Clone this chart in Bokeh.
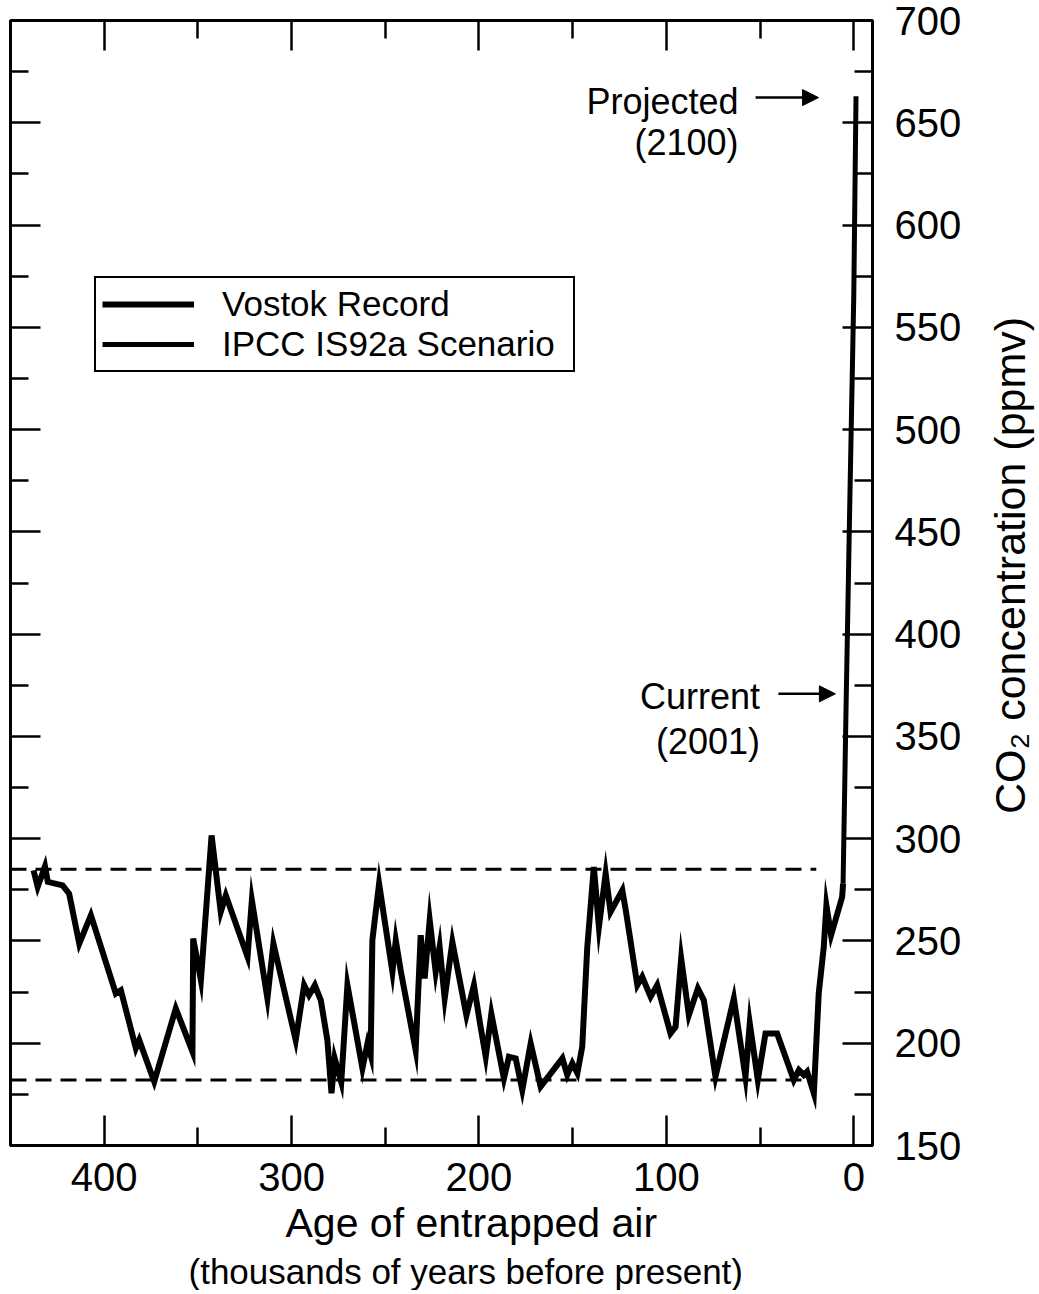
import math
from bokeh.plotting import figure
from bokeh.layouts import row
from bokeh.models import (Range1d, LinearAxis, FixedTicker, Legend, LegendItem,
                          Arrow, NormalHead, Label, Title)
from bokeh.embed import file_html
from bokeh.resources import INLINE

# ---------------- data ----------------
vostok_age = [437.7, 435.5, 431.6, 430.1, 422.2, 418.7, 413.3, 407.1, 393.8, 391.1,
              383.1, 381.3, 373.3, 361.8, 352.9, 352.5, 348.4, 342.7, 337.8, 335.1,
              323.5, 321.2, 312.9, 309.7, 297.8, 293.3, 290.7, 287.6, 284.4, 280.9,
              278.7, 277.0, 273.5, 270.2, 262.2, 259.5, 257.8, 256.9, 253.3, 246.2,
              244.4, 241.8, 233.8, 231.1, 229.0, 226.3, 223.1, 221.0, 218.3, 214.2,
              206.7, 202.7, 199.5, 196.4, 193.4, 186.7, 184.0, 180.4, 176.9, 172.4,
              167.1, 155.5, 152.9, 150.2, 147.5, 144.9, 142.2, 138.7, 136.0, 132.4,
              129.8, 123.5, 121.5, 115.5, 112.9, 108.4, 104.9, 97.8, 95.1, 92.1,
              88.0, 83.2, 80.0, 73.8, 64.0, 57.8, 55.5, 51.2, 47.1, 40.9,
              32.0, 29.3, 26.7, 24.9, 21.3, 18.7, 16.0, 14.6, 12.1, 6.2, 5.7]
vostok_co2 = [284.5, 276.4, 286.5, 278.9, 277.2, 273.1, 248.7, 262.6, 224.3, 225.9,
              197.5, 201.5, 181.2, 217.0, 195.9, 251.2, 230.8, 301.6, 264.2, 272.3,
              242.2, 269.9, 221.9, 248.7, 201.5, 228.4, 223.5, 228.4, 221.0, 201.5,
              175.5, 192.6, 181.0, 228.4, 187.7, 199.9, 194.2, 250.3, 278.0, 234.9,
              250.3, 235.7, 196.6, 252.8, 231.6, 260.1, 234.9, 247.1, 221.9, 249.5,
              213.6, 228.4, 210.0, 193.4, 214.4, 182.7, 193.4, 192.6, 177.1, 199.9,
              178.8, 192.6, 184.5, 190.2, 185.3, 198.3, 247.1, 286.2, 256.9, 282.9,
              264.2, 274.8, 264.0, 228.4, 232.5, 222.7, 228.4, 204.8, 208.0, 241.4,
              213.7, 226.8, 221.0, 183.6, 221.9, 183.6, 209.7, 182.0, 204.8, 204.8,
              182.0, 186.9, 184.5, 186.1, 175.5, 224.3, 247.1, 267.4, 252.8, 271.5, 278.0]

ipcc_age = [5.7, 4.0, 2.0, 0.0, -1.2]
ipcc_co2 = [278, 370, 470, 565, 663]

glacial_levels = [285, 182]
glacial_span = [450, 20]

x_major_ticks = [0, 100, 200, 300, 400]
x_minor_ticks = [50, 150, 250, 350]
y_major_ticks = [150, 200, 250, 300, 350, 400, 450, 500, 550, 600, 650, 700]
y_minor_ticks = [175, 225, 275, 325, 375, 425, 475, 525, 575, 625, 675]

series_names = ["Vostok Record", "IPCC IS92a Scenario"]
y_title = "CO₂ concentration (ppmv)"

FONT = "Liberation Sans"

# ---------------- main figure ----------------
p = figure(x_range=Range1d(450, -10), y_range=Range1d(150, 700),
           frame_width=862, frame_height=1125,
           min_border_left=10, min_border_top=20, min_border_right=95, min_border_bottom=0,
           x_axis_location=None, y_axis_location=None,
           output_backend="svg", toolbar_location=None)
p.outline_line_color = "black"
p.outline_line_width = 3
p.background_fill_color = "white"
p.border_fill_color = "white"
p.xgrid.visible = False
p.ygrid.visible = False

xt = FixedTicker(ticks=x_major_ticks, minor_ticks=x_minor_ticks)
yt = FixedTicker(ticks=y_major_ticks, minor_ticks=y_minor_ticks)


def style_axis(ax, labels=True):
    ax.axis_line_color = "black"
    ax.axis_line_width = 3
    ax.major_tick_in = 30
    ax.major_tick_out = 0
    ax.minor_tick_in = 18
    ax.minor_tick_out = 0
    ax.major_tick_line_width = 2.5
    ax.minor_tick_line_width = 2.5
    ax.major_tick_line_color = "black"
    ax.minor_tick_line_color = "black"
    ax.major_label_text_font = FONT
    ax.major_label_text_font_size = "40px"
    ax.major_label_text_color = "black"
    if not labels:
        ax.major_label_overrides = {t: "" for t in ax.ticker.ticks}
        ax.major_label_standoff = 0


xb = LinearAxis(ticker=xt)
style_axis(xb)
xb.major_label_standoff = 17
p.add_layout(xb, "below")

xa = LinearAxis(ticker=xt)
style_axis(xa, labels=False)
p.add_layout(xa, "above")

yl = LinearAxis(ticker=yt)
style_axis(yl, labels=False)
p.add_layout(yl, "left")

yr = LinearAxis(ticker=yt)
style_axis(yr)
yr.major_label_standoff = 22
p.add_layout(yr, "right")

t1 = Title(text="Age of entrapped air", align="left", offset=275,
           text_font=FONT, text_font_size="41px", text_font_style="normal",
           text_color="black", standoff=8)
p.add_layout(t1, "below")
t2 = Title(text="(thousands of years before present)", align="left", offset=178,
           text_font=FONT, text_font_size="35px", text_font_style="normal",
           text_color="black", standoff=0)
p.add_layout(t2, "below")

# glacial / interglacial reference levels
for lvl in glacial_levels:
    p.line(glacial_span, [lvl, lvl], line_color="black", line_width=3, line_dash="16 9")

vostok = p.line(vostok_age, vostok_co2, line_color="black", line_width=6, line_join="miter")
ipcc = p.line(ipcc_age, ipcc_co2, line_color="black", line_width=5)

legend = Legend(items=[LegendItem(label=series_names[0], renderers=[vostok]),
                       LegendItem(label=series_names[1], renderers=[ipcc])],
                location=(84, 773), orientation="vertical",
                border_line_color="black", border_line_width=2, border_line_alpha=1,
                background_fill_color="white", background_fill_alpha=1,
                label_text_font=FONT, label_text_font_size="35px", label_text_color="black",
                glyph_width=92, glyph_height=36, label_height=36,
                label_standoff=28, label_width=345, padding=6, spacing=0, margin=0)
p.add_layout(legend, "center")

# annotations
p.add_layout(Arrow(x_start=52.4, y_start=662.3, x_end=18.8, y_end=662.3, line_width=2.5,
                   line_color="black",
                   end=NormalHead(size=16, fill_color="black", line_color="black")))
p.add_layout(Arrow(x_start=40.2, y_start=370.8, x_end=9.8, y_end=370.8, line_width=2.5,
                   line_color="black",
                   end=NormalHead(size=16, fill_color="black", line_color="black")))
for txt, xx, yy in [("Projected", 61.5, 660.4), ("(2100)", 61.5, 640.3),
                    ("Current", 50.0, 369.3), ("(2001)", 50.0, 347.4)]:
    p.add_layout(Label(x=xx, y=yy, text=txt, text_align="right", text_baseline="middle",
                       text_font=FONT, text_font_size="36px", text_color="black"))

# ---------------- narrow strip holding the y-axis title ----------------
p2 = figure(x_range=Range1d(0, 70), y_range=Range1d(150, 700),
            frame_width=70, frame_height=1125,
            min_border_left=0, min_border_right=0, min_border_top=20, min_border_bottom=0,
            x_axis_location=None, y_axis_location=None,
            output_backend="svg", toolbar_location=None)
p2.outline_line_color = None
p2.xgrid.visible = False
p2.ygrid.visible = False
p2.background_fill_color = "white"
p2.border_fill_color = "white"
p2.add_layout(Label(x=42, y=433.6, text=y_title, angle=math.pi / 2,
                    text_align="center", text_baseline="middle",
                    text_font=FONT, text_font_size="43px", text_color="black"))

layout = row(p, p2, spacing=0)
open("out.html", "w").write(file_html(layout, INLINE))
